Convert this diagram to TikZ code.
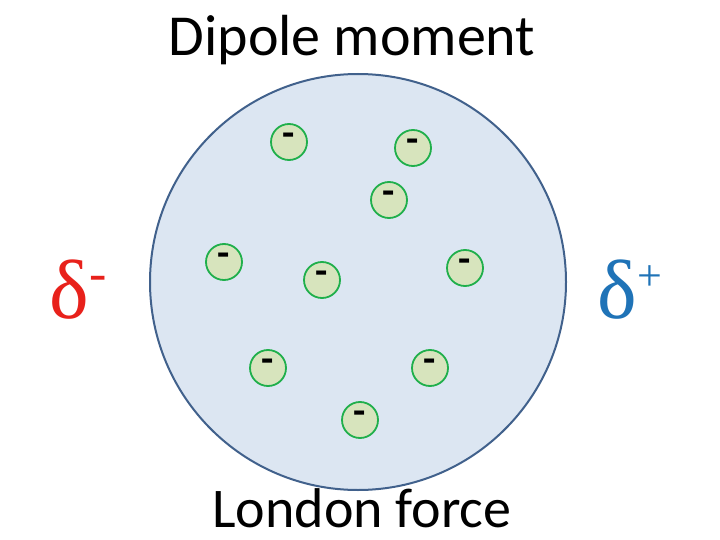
\documentclass[tikz,border=0pt]{standalone}
\usepackage{fontspec}
\setmainfont{Carlito}
\newfontfamily\grk{Liberation Serif}
\definecolor{bigfill}{HTML}{DCE6F2}
\definecolor{bigline}{HTML}{41618C}
\definecolor{smfill}{HTML}{D7E4BD}
\definecolor{smline}{HTML}{1FAF4B}
\definecolor{dred}{HTML}{E8211B}
\definecolor{dblue}{HTML}{1F73B7}
\tikzset{electron/.style={circle,draw=smline,line width=1.8pt,fill=smfill,minimum size=36pt,inner sep=0pt,font=\fontsize{40}{40}\selectfont\bfseries}}
\begin{document}
\begin{tikzpicture}[x=1pt,y=-1pt]
\useasboundingbox (0,0) rectangle (720,540);
\node[circle,draw=bigline,line width=2pt,fill=bigfill,minimum size=416pt,inner sep=0pt] (big) at (358,282) {};
\node[font=\fontsize{58}{58}\selectfont,inner sep=0pt] (title) at (352,40) {Dipole moment};
\node[font=\fontsize{56}{56}\selectfont,inner sep=0pt] (london) at (362,508) {London force};
\node[text=dred,font=\fontsize{84}{84}\selectfont\grk] (dm) at (78,290) {δ\raisebox{28pt}{\fontsize{52}{52}\selectfont -}};
\node[text=dblue,font=\fontsize{84}{84}\selectfont\grk] (dp) at (630,290) {δ\raisebox{28pt}{\fontsize{44}{44}\selectfont +}};
\foreach \n/\x/\y in {a/289/142,b/413/148,c/389/200,d/224/262,e/322/280,f/465/268,g/268/368,h/430/368,i/360/420}
  \node[electron] (\n) at (\x,\y) {\raisebox{5pt}{-}};
\end{tikzpicture}
\end{document}
